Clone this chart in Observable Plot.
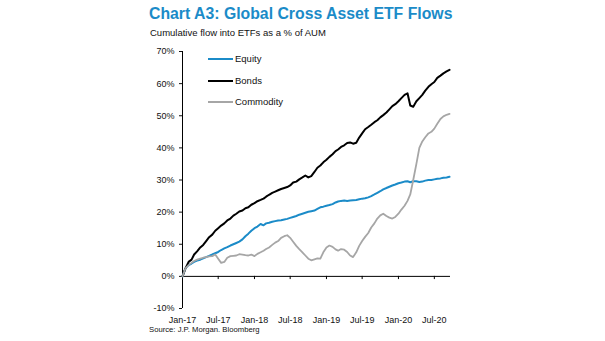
<!DOCTYPE html>
<html><head><meta charset="utf-8">
<script src="https://cdn.jsdelivr.net/npm/d3@7"></script>
<script src="https://cdn.jsdelivr.net/npm/@observablehq/plot@0.6"></script>
<style>
body{margin:0;background:#fff;font-family:"Liberation Sans",Arial,sans-serif;}
#wrap{position:relative;width:605px;height:341px;overflow:hidden;background:#fff;}
.t{position:absolute;white-space:nowrap;line-height:1;}
#title{left:149px;top:6px;font-size:15.8px;font-weight:bold;color:#1b8bc8;}
#sub{left:150px;top:28px;font-size:9.5px;color:#111;}
#src{left:149px;top:326px;font-size:7.7px;color:#111;}
#chart{position:absolute;left:0;top:44px;}
.lg{position:absolute;left:208px;font-size:9.5px;color:#111;line-height:1;}
.lg span.sw{display:inline-block;width:25px;height:0;vertical-align:middle;margin-right:2px;}
</style></head>
<body><div id="wrap">
<div class="t" id="title">Chart A3: Global Cross Asset ETF Flows</div>
<div class="t" id="sub">Cumulative flow into ETFs as a % of AUM</div>
<div id="chart"></div>
<div id="legend"></div>
<div class="t" id="src">Source: J.P. Morgan. Bloomberg</div>
</div>
<script>
// half-month steps from 1 Jan 2017 (index i -> month floor(i/2), day 1 or 16)
const startYear = 2017;
const nSteps = 90;
const seriesNames = ["Equity", "Bonds", "Commodity"];
const seriesColors = ["#1b8bc8", "#000000", "#a6a6a6"];
const yTicks = [-10, 0, 10, 20, 30, 40, 50, 60, 70];
const xTickLabels = ["Jan-17","Jul-17","Jan-18","Jul-18","Jan-19","Jul-19","Jan-20","Jul-20"];

const equity = [0,2.5,3.5,4,4.5,4.9,5.2,5.6,6,6.4,6.8,7.2,7.6,8.2,8.7,9.1,9.6,10,10.4,10.8,11.5,12.5,13.3,14.2,15,15.5,16.3,15.9,16.5,16.7,17,17.2,17.4,17.5,17.7,17.9,18.2,18.5,18.8,19.2,19.5,19.8,20.1,20.3,20.5,21,21.5,21.7,22,22.2,22.5,23,23.3,23.5,23.6,23.5,23.6,23.7,23.8,24,24.2,24.3,24.6,25,25.5,26,26.5,27.1,27.5,27.9,28.3,28.6,29,29.2,29.5,29.6,29.3,29.6,29.6,29.4,29.5,29.8,30,30,30.2,30.4,30.5,30.7,30.8,31];
const bonds = [0,2.5,4.5,5.2,6.8,7.8,9,9.8,11,12.2,13,14.2,15,15.8,16.5,17.4,18,18.9,19.5,20.2,20.5,21.2,21.5,22.3,22.8,23.4,23.8,24.2,24.8,25.4,26,26.4,26.8,27.2,27.5,27.8,28.3,29.2,29.5,30.2,30.8,31.4,30.8,31.2,32.5,33.8,34.5,35.5,36.3,37.2,38,39,39.5,40.3,40.8,41.5,41.7,41.3,41.6,43.2,44.5,45.8,46.5,47.2,48,48.6,49.5,50.2,51,52,53,53.6,54.5,55.5,56.5,57,53.2,52.8,54.5,55.5,56.5,57.8,59,59.8,60.5,61.8,62.5,63.2,63.8,64.3];
const commodity = [0,2.5,3.5,4.2,4.8,5.2,5.5,5.8,6,6.2,6.3,6.8,5.5,4.2,4.5,5.8,6.3,6.4,6.5,6.9,6.8,6.6,6.5,6.8,6.3,7,7.5,8,8.5,9,9.8,10.5,11,12,12.5,12.8,12,10.8,9.5,8.5,7.5,6.5,5.5,5,5.3,5.6,5.5,7.5,9,9.6,9.2,8.4,8,8.5,8.3,7.6,6.5,6,7.5,9.5,11,12.3,13.5,15.2,16.5,18,19,19.5,18.8,18.3,18,18.5,19.5,20.8,22,23.5,25.5,30,35,40,42,43.3,44.5,45,46,47.5,49,49.8,50.3,50.6];

const dates = d3.range(nSteps).map(i => new Date(startYear, Math.floor(i / 2), i % 2 ? 16 : 1));
const fmt = d3.timeFormat("%b-%y");
const tickDates = xTickLabels.map(s => d3.timeParse("%b-%y")(s));
const values = [equity, bonds, commodity];
const rows = [];
seriesNames.forEach((name, k) => values[k].forEach((v, i) => rows.push({date: dates[i], value: v, series: name})));

const x0 = new Date(2017, 0, 1), x1 = new Date(2020, 8, 21);
const plot = Plot.plot({
  width: 605, height: 284,
  marginLeft: 182, marginRight: 155, marginTop: 7, marginBottom: 20,
  style: {fontFamily: '"Liberation Sans", Arial, sans-serif', fontSize: "9px", color: "#111", background: "transparent"},
  x: {type: "time", domain: [x0, x1]},
  y: {domain: [-10, 70]},
  color: {domain: seriesNames, range: seriesColors},
  marks: [
    Plot.axisY({ticks: yTicks, tickFormat: d => d + "%", tickSize: 3, tickPadding: 5, label: null}),
    Plot.axisX({ticks: tickDates, tickFormat: fmt, tickSize: 0, tickPadding: 8, label: null}),
    Plot.ruleX([x0], {y1: -10, y2: 70, stroke: "#000", strokeWidth: 1}),
    Plot.ruleY([0], {x1: x0, x2: x1, stroke: "#000", strokeWidth: 1}),
    Plot.ruleX(tickDates.slice(1), {y1: 0, y2: -1, stroke: "#000", strokeWidth: 1}),
    Plot.lineY(rows.filter(d => d.series === "Equity"), {x: "date", y: "value", stroke: "series", strokeWidth: 2}),
    Plot.lineY(rows.filter(d => d.series === "Bonds"), {x: "date", y: "value", stroke: "series", strokeWidth: 2}),
    Plot.lineY(rows.filter(d => d.series === "Commodity"), {x: "date", y: "value", stroke: "series", strokeWidth: 1.8})
  ]
});
document.getElementById("chart").appendChild(plot);

const legendTops = [54, 76, 97];
const lg = document.getElementById("legend");
seriesNames.forEach((name, k) => {
  const d = document.createElement("div");
  d.className = "lg";
  d.style.top = legendTops[k] + "px";
  d.innerHTML = `<span class="sw" style="border-top:2px solid ${seriesColors[k]}"></span>${name}`;
  lg.appendChild(d);
});
</script>
</body></html>
